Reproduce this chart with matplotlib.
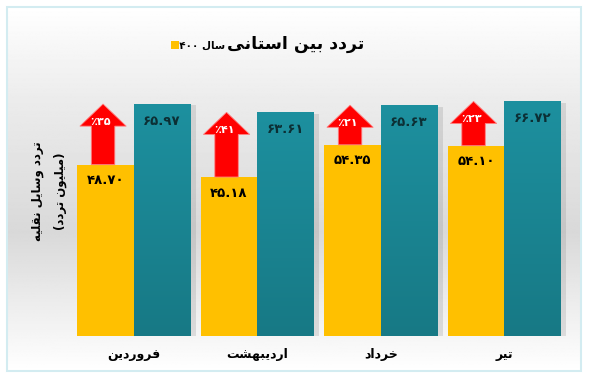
import re

import matplotlib
matplotlib.use("Agg")
import matplotlib.pyplot as plt
import matplotlib.patheffects as pe
import numpy as np
from matplotlib.colors import LinearSegmentedColormap
from matplotlib.patches import Polygon, Rectangle

# ---------------------------------------------------------------------------
# داده‌ها
# ---------------------------------------------------------------------------
months = ["فروردین", "اردیبهشت", "خرداد", "تیر"]
prev_year = [48.70, 45.18, 54.35, 54.10]      # میلیون تردد
year_1400 = [65.97, 63.61, 65.63, 66.72]
growth_pct = [35, 41, 21, 23]

title = "تردد بین استانی"
legend_label = "سال ۱۴۰۰"
ylabel = "تردد وسایل نقلیه\n(میلیون تردد)"

C_GOLD = "#FFC000"
C_TEAL_TOP = "#1d909f"
C_TEAL_BOT = "#177985"
C_RED = "#FF0000"

plt.rcParams["font.family"] = ["DejaVu Sans"]
plt.rcParams["font.weight"] = "bold"

# ---------------------------------------------------------------------------
# شکل‌دهی ساده حروف فارسی (matplotlib خودش اتصال و راست‌به‌چپ ندارد)
# ---------------------------------------------------------------------------
FORMS = {
    "ا": ("\uFE8D", "\uFE8E", None, None),
    "ب": ("\uFE8F", "\uFE90", "\uFE91", "\uFE92"),
    "ت": ("\uFE95", "\uFE96", "\uFE97", "\uFE98"),
    "خ": ("\uFEA5", "\uFEA6", "\uFEA7", "\uFEA8"),
    "د": ("\uFEA9", "\uFEAA", None, None),
    "ر": ("\uFEAD", "\uFEAE", None, None),
    "س": ("\uFEB1", "\uFEB2", "\uFEB3", "\uFEB4"),
    "ش": ("\uFEB5", "\uFEB6", "\uFEB7", "\uFEB8"),
    "ف": ("\uFED1", "\uFED2", "\uFED3", "\uFED4"),
    "ق": ("\uFED5", "\uFED6", "\uFED7", "\uFED8"),
    "ل": ("\uFEDD", "\uFEDE", "\uFEDF", "\uFEE0"),
    "م": ("\uFEE1", "\uFEE2", "\uFEE3", "\uFEE4"),
    "ن": ("\uFEE5", "\uFEE6", "\uFEE7", "\uFEE8"),
    "ه": ("\uFEE9", "\uFEEA", "\uFEEB", "\uFEEC"),
    "و": ("\uFEED", "\uFEEE", None, None),
    "ی": ("\uFBFC", "\uFBFD", "\uFBFE", "\uFBFF"),
}
MIRROR = {"(": ")", ")": "("}
FA_DIGITS = str.maketrans("0123456789", "۰۱۲۳۴۵۶۷۸۹")


def _shape(text):
    out = []
    for i, c in enumerate(text):
        if c not in FORMS:
            out.append(c)
            continue
        p = text[i - 1] if i > 0 else ""
        n = text[i + 1] if i + 1 < len(text) else ""
        join_prev = p in FORMS and FORMS[p][2] is not None
        join_next = n in FORMS and FORMS[c][2] is not None
        iso, fin, ini, med = FORMS[c]
        if join_prev and join_next:
            out.append(med)
        elif join_prev:
            out.append(fin)
        elif join_next:
            out.append(ini)
        else:
            out.append(iso)
    return "".join(out)


def rtl(text):
    lines = []
    for line in text.split("\n"):
        runs = re.findall(r"[0-9۰-۹][0-9۰-۹.]*|.", _shape(line))
        lines.append("".join(r if r[0] in "0123456789۰۱۲۳۴۵۶۷۸۹" else MIRROR.get(r, r)
                             for r in reversed(runs)))
    return "\n".join(lines)


def fa(s):
    return s.translate(FA_DIGITS)


# ---------------------------------------------------------------------------
W, H = 589, 381
fig = plt.figure(figsize=(W / 100, H / 100), dpi=100)
fig.patch.set_facecolor("white")

# قاب با پس‌زمینه گرادیانی
fx0, fy0, fx1, fy1 = 7, 7, 581, 371
bg = fig.add_axes([fx0 / W, 1 - fy1 / H, (fx1 - fx0) / W, (fy1 - fy0) / H], zorder=0)
t = np.linspace(0, 1, 300)
shade = np.interp(t, [0, 0.25, 0.62, 1], [1.0, 0.925, 0.85, 1.0])
bg.imshow(np.repeat(shade[:, None], 2, axis=1), cmap="gray", vmin=0, vmax=1,
          aspect="auto", extent=[0, 1, 0, 1])
bg.set_axis_off()
fig.patches.append(Rectangle((fx0 / W, 1 - fy1 / H), (fx1 - fx0) / W, (fy1 - fy0) / H,
                             transform=fig.transFigure, fill=False,
                             edgecolor="#d3ecf1", linewidth=1.5, zorder=5))

# محور اصلی
ax_l, ax_r, ax_b, ax_t = 72, 566, 335.7, 60
ax = fig.add_axes([ax_l / W, 1 - ax_b / H, (ax_r - ax_l) / W, (ax_b - ax_t) / H], zorder=2)
ax.patch.set_alpha(0)
px_per_unit = 3.512
ax.set_xlim(-0.5, len(months) - 0.5)
ax.set_ylim(0, (ax_b - ax_t) / px_per_unit)
for s in ax.spines.values():
    s.set_visible(False)
ax.tick_params(length=0, labelleft=False)

x = np.arange(len(months))
bw = 0.457
shadow = [pe.SimplePatchShadow(offset=(4, -1), shadow_rgbFace=(0.5, 0.5, 0.5), alpha=0.22),
          pe.Normal()]
bars_prev = ax.bar(x - bw / 2, prev_year, bw, color=C_GOLD, edgecolor="none",
                   zorder=3, path_effects=shadow)
bars_new = ax.bar(x + bw / 2, year_1400, bw, color=C_TEAL_BOT, edgecolor="none",
                  zorder=3, path_effects=shadow)

teal_cmap = LinearSegmentedColormap.from_list("teal", [C_TEAL_BOT, C_TEAL_TOP])
grad = np.linspace(0, 1, 256)[:, None]
for b in bars_new:
    im = ax.imshow(grad, cmap=teal_cmap, origin="lower", aspect="auto", zorder=3.5,
                   extent=[b.get_x(), b.get_x() + b.get_width(), 0, b.get_height()])
    im.set_clip_path(b)
ax.set_xlim(-0.5, len(months) - 0.5)
ax.set_ylim(0, (ax_b - ax_t) / px_per_unit)

# فلش‌های رشد
head_w, shaft_w, head_len = 0.375, 0.19, 6.3
for i in range(len(months)):
    cx = x[i] - bw / 2 - 0.02
    y0, y1 = prev_year[i], year_1400[i]
    yb = y1 - head_len
    pts = [(cx - shaft_w / 2, y0), (cx - shaft_w / 2, yb), (cx - head_w / 2, yb),
           (cx, y1), (cx + head_w / 2, yb), (cx + shaft_w / 2, yb), (cx + shaft_w / 2, y0)]
    ax.add_patch(Polygon(pts, closed=True, facecolor=C_RED, edgecolor="#ff8080",
                         linewidth=0.6, zorder=4))
    ax.text(cx - 0.02, yb + 1.3, rtl(fa(f"{growth_pct[i]}٪")), ha="center", va="center",
            color="white", fontsize=8, fontweight="bold", zorder=5)

# برچسب مقادیر
for i in range(len(months)):
    ax.annotate(fa(f"{prev_year[i]:.2f}"), (x[i] - bw / 2, prev_year[i]),
                xytext=(0, -11.5), textcoords="offset points", ha="center", va="center",
                fontsize=9.5, fontweight="bold", color="black", zorder=6)
    ax.annotate(fa(f"{year_1400[i]:.2f}"), (x[i] + bw / 2, year_1400[i]),
                xytext=(0, -12.5), textcoords="offset points", ha="center", va="center",
                fontsize=9.5, fontweight="bold", color="#0c2f34", zorder=6)

ax.set_xticks(x)
ax.set_xticklabels([rtl(m) for m in months], fontsize=9, fontweight="bold")
ax.tick_params(axis="x", pad=9)

# عنوان و راهنما
fig.text(296 / W, 1 - 44 / H, rtl(title), ha="center", va="center",
         fontsize=12.5, fontweight="bold", color="black")
fig.text(225 / W, 1 - 46 / H, rtl(legend_label), ha="right", va="center",
         fontsize=7.5, fontweight="bold", color="black")
fig.patches.append(Rectangle((171 / W, 1 - 49 / H), 8 / W, 8 / H, transform=fig.transFigure,
                             facecolor=C_GOLD, edgecolor="none", zorder=5))

fig.text(49 / W, 1 - 191 / H, rtl(ylabel), ha="center", va="center", rotation=90,
         fontsize=8.5, fontweight="bold", color="black", linespacing=1.9)

fig.savefig("out.png", dpi=100)
